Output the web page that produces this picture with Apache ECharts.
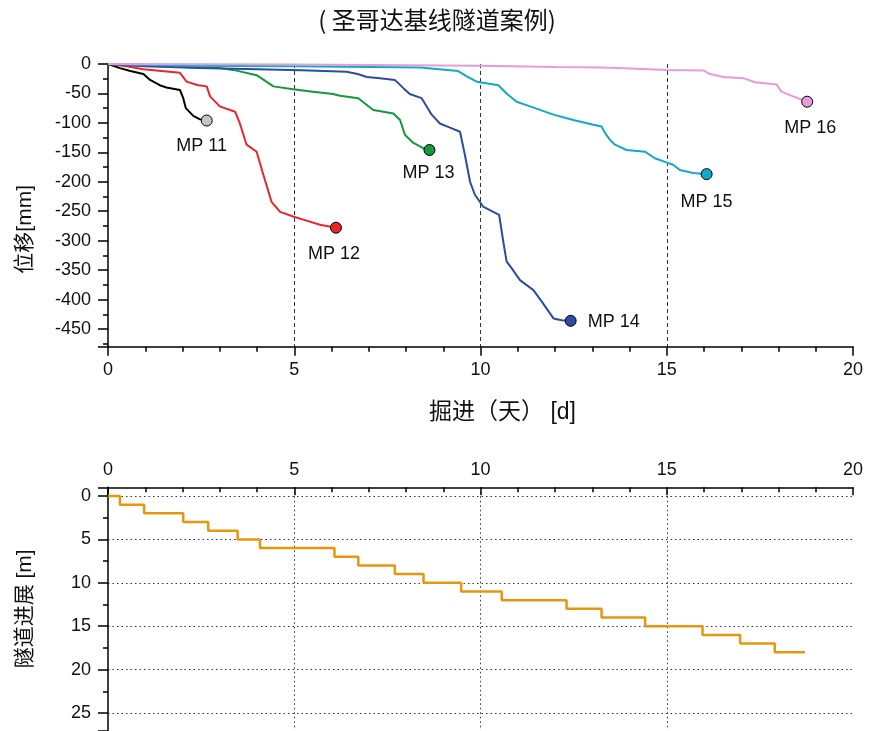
<!DOCTYPE html>
<html>
<head>
<meta charset="utf-8">
<script src="https://cdn.jsdelivr.net/npm/echarts@6/dist/echarts.min.js"></script>
<style>
html,body{margin:0;padding:0;background:#fff;}
#chart{width:874px;height:731px;}
</style>
</head>
<body>
<div id="chart"></div>
<script>
// ---- data (days, displacement mm) ----
const titleText = '( 圣哥达基线隧道案例)';
const xName = '掘进（天） [d]';
const yNameTop = '位移[mm]';
const yNameBottom = '隧道进展 [m]';

const mp11 = [[0,0],[0.32,-7],[0.6,-12],[0.95,-17],[1.13,-27],[1.39,-36],[1.57,-40],[1.93,-44],[2.02,-58],[2.09,-75],[2.29,-88],[2.47,-94],[2.65,-96]];
const mp12 = [[0,0],[0.5,-4],[0.95,-9],[1.93,-15],[2.11,-30],[2.42,-36],[2.65,-38],[2.74,-55],[3.0,-72],[3.41,-81],[3.54,-101],[3.72,-137],[3.99,-149],[4.17,-188],[4.39,-234],[4.62,-251],[4.97,-259],[5.33,-266],[5.69,-273],[6.12,-278]];
const mp13 = [[0,0],[1,-3],[2,-5],[3,-7],[3.36,-10],[3.99,-19],[4.44,-38],[4.97,-43],[5.5,-47],[6.04,-51],[6.23,-54],[6.72,-58],[7.12,-78],[7.66,-84],[7.84,-95],[7.97,-120],[8.2,-134],[8.46,-143],[8.63,-146]];
const mp14 = [[0,0],[1,-4],[2.47,-7],[4,-9],[5.2,-10.5],[6.4,-13],[6.7,-17],[6.95,-22],[7.3,-24],[7.7,-27],[7.93,-41],[8.1,-51],[8.42,-58],[8.69,-86],[8.91,-101],[9.18,-108],[9.45,-115],[9.58,-154],[9.72,-200],[9.85,-222],[10.07,-242],[10.5,-256],[10.61,-301],[10.7,-335],[10.84,-347],[11.06,-367],[11.42,-384],[11.64,-403],[11.96,-432],[12.18,-435],[12.42,-436]];
const mp15 = [[0,0],[2,-3],[5,-4],[8.38,-6],[9.4,-12],[9.63,-21],[9.9,-30],[10.48,-36],[10.7,-50],[10.97,-64],[11.33,-72],[11.96,-86],[12.49,-95],[13.03,-103],[13.25,-106],[13.34,-117],[13.48,-129],[13.61,-137],[13.92,-146],[14.42,-149],[14.68,-160],[14.99,-167],[15.17,-171],[15.35,-180],[15.71,-185],[16.07,-187]];
const mp16 = [[0,0],[5,-1],[10,-3],[12,-5],[13.2,-6],[13.7,-7],[14.99,-10],[15.98,-11],[16.16,-17],[16.52,-22],[17.06,-24],[17.37,-31],[17.95,-35],[18.08,-47],[18.39,-55],[18.77,-64]];

const seriesNames = ['MP 11','MP 12','MP 13','MP 14','MP 15','MP 16'];

// ---- tunnel progress (day of advance, metres) ----
const progressDays = [0,0.32,0.97,2.02,2.69,3.48,4.08,6.08,6.72,7.70,8.47,9.48,10.57,12.31,13.25,14.42,15.96,16.97,17.9,18.71];
const progressMeters = [0,1,2,3,4,5,6,7,8,9,10,11,12,13,14,15,16,17,18,18];

// ---- styling ----
const lineColors = ['#000000','#e8262b','#14993c','#2b4c9f','#10a9c9','#e99ad8'];
const markerColors = ['#c4c4c4','#e8262b','#14993c','#2b4c9f','#10a9c9','#e99ad8'];
const labelPos = [
  {position:'bottom', distance:10, offset:[-5,0]},
  {position:'bottom', distance:11, offset:[-2,0]},
  {position:'bottom', distance:8, offset:[-1,0]},
  {position:'right', distance:11, offset:[0,1]},
  {position:'bottom', distance:13, offset:[0,0]},
  {position:'bottom', distance:11, offset:[3,0]}
];
const FONT = "'Liberation Sans', Arial, 'Noto Sans CJK SC', sans-serif";

const allData = [mp11, mp12, mp13, mp14, mp15, mp16];

const series = [];
allData.forEach((d, i) => {
  series.push({
    type: 'line', name: seriesNames[i], xAxisIndex: 0, yAxisIndex: 0,
    data: d, showSymbol: false, symbol: 'none',
    lineStyle: {color: lineColors[i], width: 2}, z: 2 + i, silent: true
  });
});
allData.forEach((d, i) => {
  series.push({
    type: 'scatter', xAxisIndex: 0, yAxisIndex: 0,
    data: [d[d.length - 1]], symbol: 'circle', symbolSize: 11,
    itemStyle: {color: markerColors[i], borderColor: '#000', borderWidth: 1, opacity: 1},
    label: Object.assign({show: true, formatter: seriesNames[i], fontSize: 18, color: '#111', fontFamily: FONT}, labelPos[i]),
    z: 20, silent: true
  });
});
series.push({
  type: 'line', xAxisIndex: 1, yAxisIndex: 1, step: 'end',
  data: progressDays.map((d, i) => [d, progressMeters[i]]),
  showSymbol: false, symbol: 'none',
  lineStyle: {color: '#e8950f', width: 2.5}, silent: true
});

const axisLineStyle = {color: '#000', width: 1.5};
const labelStyle = {fontSize: 18, color: '#111', fontFamily: FONT};

const option = {
  backgroundColor: '#fff',
  animation: false,
  title: {
    text: titleText, left: 'center', top: 3,
    textStyle: {fontSize: 24, fontWeight: 'normal', color: '#111', fontFamily: "'Noto Sans CJK SC', sans-serif"}
  },
  grid: [
    {left: 108, right: 21, top: 64, bottom: 384.3},
    {left: 108, right: 21, top: 487.3, bottom: 0.6}
  ],
  xAxis: [
    {
      gridIndex: 0, type: 'value', min: 0, max: 20, interval: 5,
      axisLine: {show: true, onZero: false, lineStyle: axisLineStyle},
      axisTick: {show: true, length: 9, lineStyle: axisLineStyle},
      minorTick: {show: true, splitNumber: 5, length: 5, lineStyle: axisLineStyle},
      axisLabel: Object.assign({margin: 14}, labelStyle),
      splitLine: {show: true, showMinLine: false, showMaxLine: false, lineStyle: {type: [4, 3], color: '#333', width: 1}},
      name: xName, nameLocation: 'middle', nameGap: 54,
      nameTextStyle: {fontSize: 23, color: '#111', fontFamily: FONT, padding: [0, 0, 0, 44]}
    },
    {
      gridIndex: 1, type: 'value', position: 'top', min: 0, max: 20, interval: 5,
      axisLine: {show: true, onZero: false, lineStyle: axisLineStyle},
      axisTick: {show: true, inside: true, length: 8, lineStyle: axisLineStyle},
      minorTick: {show: true, splitNumber: 5, length: 5, lineStyle: axisLineStyle},
      axisLabel: Object.assign({margin: 8}, labelStyle),
      splitLine: {show: true, showMinLine: false, showMaxLine: false, lineStyle: {type: [1.5, 3], color: '#333', width: 1}}
    }
  ],
  yAxis: [
    {
      gridIndex: 0, type: 'value', min: -480, max: 0, splitNumber: 10,
      axisLine: {show: true, onZero: false, lineStyle: axisLineStyle},
      axisTick: {show: true, length: 10, lineStyle: axisLineStyle},
      minorTick: {show: true, splitNumber: 2, length: 5, lineStyle: axisLineStyle},
      axisLabel: Object.assign({margin: 17, showMinLabel: false}, labelStyle),
      splitLine: {show: false},
      name: yNameTop, nameLocation: 'middle', nameGap: 72,
      nameTextStyle: {fontSize: 21, color: '#111', fontFamily: FONT, padding: [0, 48, 0, 0]}
    },
    {
      gridIndex: 1, type: 'value', inverse: true, min: -1, max: 27, splitNumber: 5,
      axisLine: {show: true, onZero: false, lineStyle: axisLineStyle},
      axisTick: {show: true, length: 10, lineStyle: axisLineStyle},
      minorTick: {show: true, splitNumber: 2, length: 5, lineStyle: axisLineStyle},
      axisLabel: Object.assign({margin: 17, showMinLabel: false, showMaxLabel: false}, labelStyle),
      splitLine: {show: true, showMinLine: false, showMaxLine: false, lineStyle: {type: [1.5, 3], color: '#333', width: 1}},
      name: yNameBottom, nameLocation: 'middle', nameGap: 72,
      nameTextStyle: {fontSize: 21, color: '#111', fontFamily: FONT}
    }
  ],
  series: series
};

const chart = echarts.init(document.getElementById('chart'), null, {renderer: 'canvas'});
chart.setOption(option);
</script>
</body>
</html>
